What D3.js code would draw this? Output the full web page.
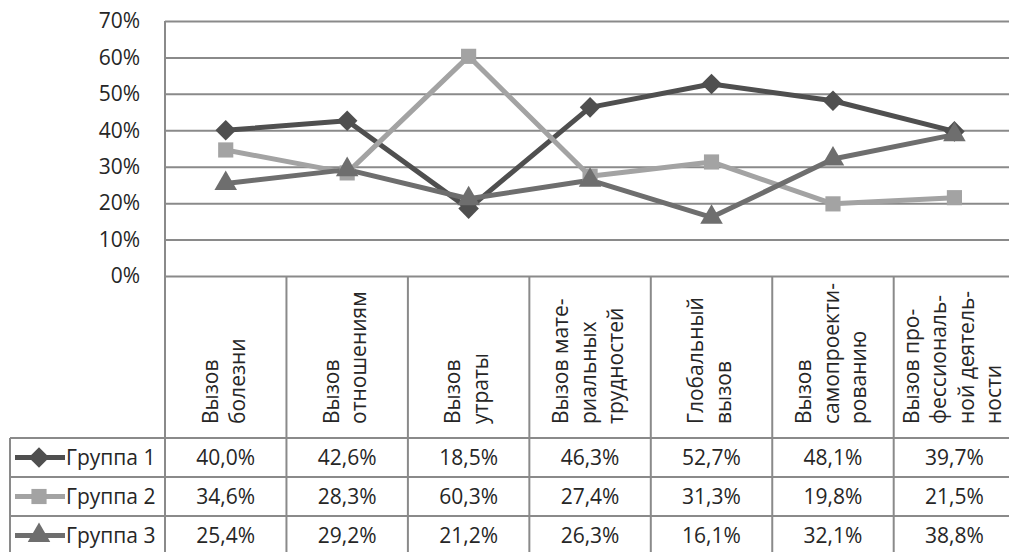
<!DOCTYPE html>
<html>
<head>
<meta charset="utf-8">
<script src="https://cdn.jsdelivr.net/npm/d3@7"></script>
<style>
  html, body { margin: 0; padding: 0; background: #fff; }
  svg { display: block; }
  text { font-family: "Open Sans", "Noto Sans", sans-serif; fill: #262626; }
</style>
</head>
<body>
<svg id="chart" width="1009" height="552"></svg>
<script>
// Categories (each split into the lines of its rotated header)
const categoryLines = [
  ["Вызов", "болезни"],
  ["Вызов", "отношениям"],
  ["Вызов", "утраты"],
  ["Вызов мате-", "риальных", "трудностей"],
  ["Глобальный", "вызов"],
  ["Вызов", "самопроекти-", "рованию"],
  ["Вызов про-", "фессиональ-", "ной деятель-", "ности"]
];
const categories = categoryLines.map(l => l.join(" "));

// Series values, percent
const seriesNames = ["Группа 1", "Группа 2", "Группа 3"];
const group1 = [40.0, 42.6, 18.5, 46.3, 52.7, 48.1, 39.7];
const group2 = [34.6, 28.3, 60.3, 27.4, 31.3, 19.8, 21.5];
const group3 = [25.4, 29.2, 21.2, 26.3, 16.1, 32.1, 38.8];

// Y axis ticks, percent
const yTicks = [0, 10, 20, 30, 40, 50, 60, 70];

const series = [
  { name: seriesNames[0], values: group1, color: "#4f4f4f", marker: d3.symbolDiamond2, size: 270 },
  { name: seriesNames[1], values: group2, color: "#a3a3a3", marker: d3.symbolSquare, size: 230 },
  { name: seriesNames[2], values: group3, color: "#6e6e6e", marker: d3.symbolTriangle, size: 220 }
];

const svg = d3.select("#chart");
const gridColor = "#8a8a8a";
const fs = 21;

const plotLeft = 165, bandW = 121.45;
const x = d3.scaleBand().domain(categories)
  .range([plotLeft, plotLeft + bandW * categories.length]).padding(0);
const y = d3.scaleLinear().domain([0, 70]).range([276, 21]);

const headerBottom = 438;
const rowH = 39;
const tableLeft = 10;
const rowTops = seriesNames.map((_, i) => headerBottom + i * rowH);

const locale = d3.formatLocale({ decimal: ",", thousands: " ", grouping: [3], currency: ["", ""] });
const fmt = locale.format(".1f");

// Horizontal gridlines with tick labels
const yAxis = d3.axisLeft(y).tickValues(yTicks).tickSize(-(x.range()[1] - plotLeft))
  .tickFormat(d => d + "%").tickPadding(25);
const gy = svg.append("g").attr("transform", `translate(${plotLeft},0)`).call(yAxis);
gy.select(".domain").remove();
gy.selectAll(".tick line").attr("stroke", gridColor).attr("stroke-width", 2);
gy.selectAll(".tick text").attr("font-size", fs).attr("fill", "#262626")
  .style("font-family", '"Open Sans", sans-serif');

// Vertical lines: plot left edge and category dividers through the header and table
svg.append("line")
  .attr("x1", plotLeft).attr("x2", plotLeft).attr("y1", y(70)).attr("y2", 560)
  .attr("stroke", gridColor).attr("stroke-width", 2);
svg.append("g").selectAll("line").data(categories.slice(1)).join("line")
  .attr("x1", d => x(d)).attr("x2", d => x(d))
  .attr("y1", y(0)).attr("y2", 560)
  .attr("stroke", gridColor).attr("stroke-width", 2);

// Table horizontal rules
const ruleYs = rowTops.concat([headerBottom + rowH * seriesNames.length]);
svg.append("g").selectAll("line").data(ruleYs).join("line")
  .attr("x1", tableLeft).attr("x2", 1015)
  .attr("y1", d => d).attr("y2", d => d)
  .attr("stroke", gridColor).attr("stroke-width", 2);
svg.append("line")
  .attr("x1", tableLeft).attr("x2", tableLeft).attr("y1", headerBottom).attr("y2", 560)
  .attr("stroke", gridColor).attr("stroke-width", 2);

// Rotated category headers
const pitch = 27.5;
const headers = svg.append("g").selectAll("text").data(categoryLines).join("text")
  .attr("font-size", fs)
  .attr("transform", (d, i) => `translate(${x(categories[i]) + x.bandwidth() / 2 - 2},424) rotate(-90)`);
headers.selectAll("tspan").data(d => d.map((t, j) => ({ t, j, n: d.length }))).join("tspan")
  .attr("x", 0)
  .attr("y", d => (d.j - (d.n - 1) / 2) * pitch + 0.36 * fs)
  .text(d => d.t);

// Lines and markers
const line = d3.line()
  .x((d, i) => x(categories[i]) + x.bandwidth() / 2)
  .y(d => y(d));

series.forEach(s => {
  svg.append("path").datum(s.values)
    .attr("d", line).attr("fill", "none")
    .attr("stroke", s.color).attr("stroke-width", 5).attr("stroke-linejoin", "round");
});
series.forEach(s => {
  svg.append("g").selectAll("path").data(s.values).join("path")
    .attr("d", d3.symbol().type(s.marker).size(s.size))
    .attr("transform", (d, i) => `translate(${x(categories[i]) + x.bandwidth() / 2},${y(d)})`)
    .attr("fill", s.color);
});

// Data table rows: legend key plus values
series.forEach((s, r) => {
  const cy = rowTops[r] + rowH / 2;
  const g = svg.append("g");
  g.append("line").attr("x1", 15).attr("x2", 65).attr("y1", cy).attr("y2", cy)
    .attr("stroke", s.color).attr("stroke-width", 5);
  g.append("path").attr("d", d3.symbol().type(s.marker).size(s.size))
    .attr("transform", `translate(39,${cy})`).attr("fill", s.color);
  g.append("text").attr("x", 66).attr("y", cy).attr("dy", "0.36em")
    .attr("font-size", fs).text(s.name);
  g.selectAll("text.v").data(s.values).join("text").attr("class", "v")
    .attr("x", (d, i) => x(categories[i]) + x.bandwidth() / 2)
    .attr("y", cy).attr("dy", "0.36em")
    .attr("text-anchor", "middle").attr("font-size", fs)
    .text(d => fmt(d) + "%");
});
</script>
</body>
</html>
